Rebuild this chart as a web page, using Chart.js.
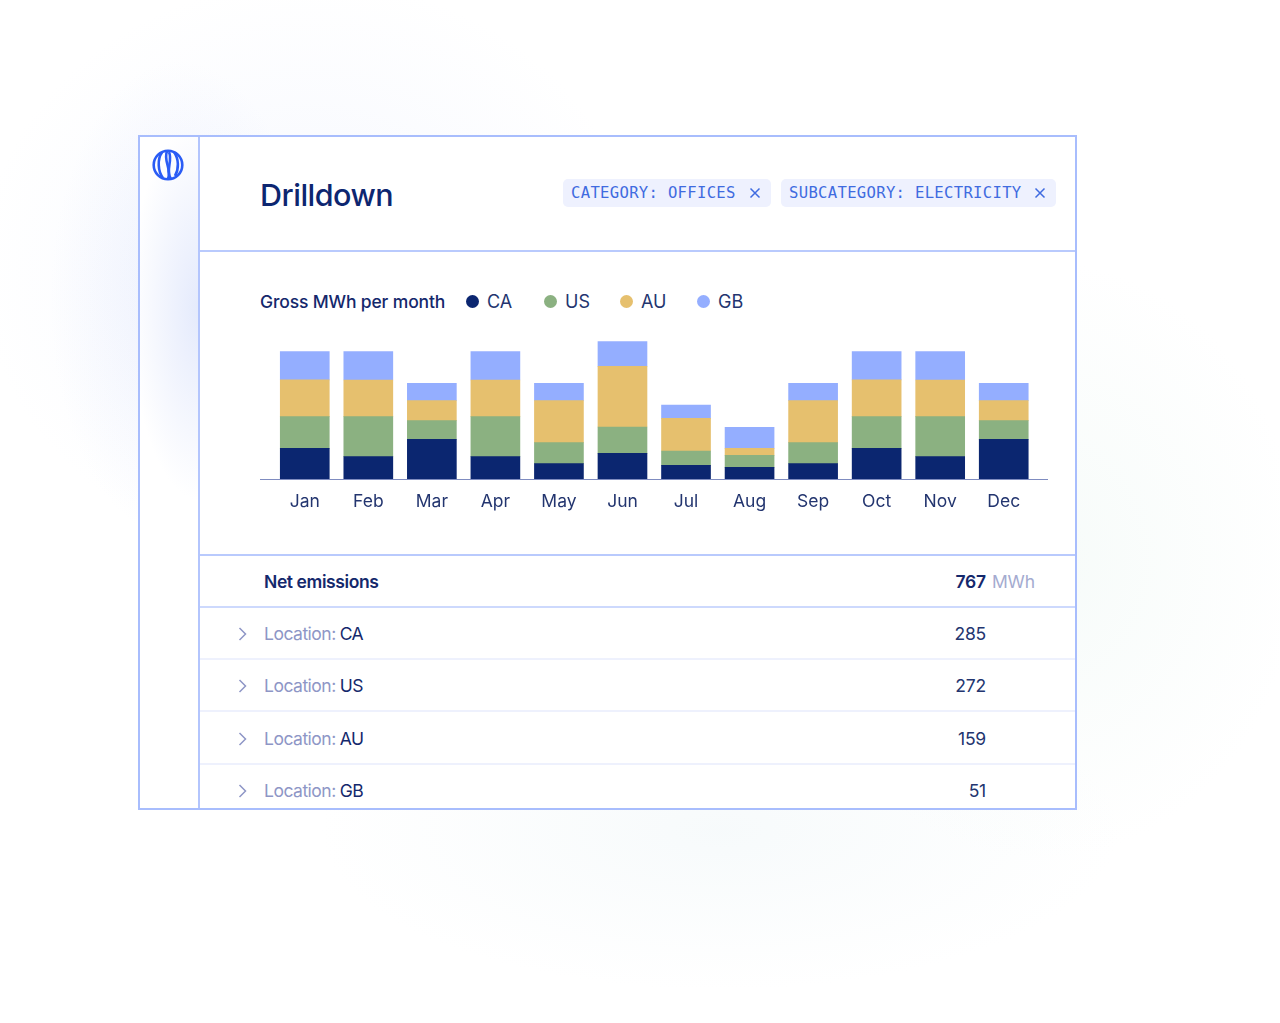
<!DOCTYPE html>
<html>
<head>
<meta charset="utf-8">
<title>Drilldown</title>
<script src="https://cdn.jsdelivr.net/npm/chart.js@4"></script>
<style>
  html, body { margin: 0; padding: 0; }
  body {
    width: 1280px; height: 1023px; overflow: hidden; position: relative;
    font-family: Inter, sans-serif; color: #14286c;
    background:
      radial-gradient(ellipse 130px 240px at 180px 300px, rgba(190,205,250,0.22), rgba(190,205,250,0) 100%),
      radial-gradient(ellipse 330px 290px at 310px 270px, rgba(225,232,252,0.32), rgba(225,232,252,0) 100%),
      radial-gradient(ellipse 260px 300px at 1040px 560px, rgba(232,245,240,0.38), rgba(232,245,240,0) 100%),
      radial-gradient(ellipse 400px 160px at 720px 830px, rgba(232,242,245,0.35), rgba(232,242,245,0) 100%),
      #fff;
  }
  .abs { position: absolute; }
  #frame { left: 138px; top: 135px; width: 939px; height: 675px; background: #fff; overflow: hidden; }
  #frameBorder { left: 0; top: 0; width: 935px; height: 671px; border: 2px solid #a8bdfd; }
  #side { left: 0; top: 0; width: 60px; height: 675px; border-right: 2px solid #b3c5fd;
    background: radial-gradient(ellipse 70px 190px at 62px 175px, #e4eafc, rgba(255,255,255,0) 100%); }
  #globe { left: 14px; top: 14px; }
  h1 { margin: 0; left: 122px; top: 42px; font-size: 30.5px; line-height: 36px; font-weight: 500; letter-spacing: -0.5px; color: #0d2670; white-space: nowrap; }
  .chip { top: 44px; height: 28px; border-radius: 5px; background: #eef1fe; color: #3f6be0;
    font: 15.6px/28px "DejaVu Sans Mono", monospace; white-space: nowrap; letter-spacing: 0.3px; }
  .chip span { position: absolute; left: 8px; top: 0; }
  .chip svg { position: absolute; top: 8px; }
  .rule { left: 62px; width: 877px; height: 2px; background: #b9cafd; }
  .rule.soft { height: 2px; background: #eef1fd; }
  #chartTitle { left: 122px; top: 155px; font-size: 17.5px; line-height: 24px; font-weight: 500; letter-spacing: -0.15px; white-space: nowrap; color: #14286c; }
  .lg-dot { width: 13px; height: 13px; border-radius: 50%; top: 160px; }
  .lg-text { top: 155px; font-size: 18px; line-height: 24px; color: #23356f; }
  #chartBox { left: 122px; top: 194px; width: 788px; height: 186px; }
  .row-label { left: 126px; font-size: 17.5px; line-height: 24px; white-space: nowrap; letter-spacing: -0.5px; word-spacing: -0.5px; }
  .row-label .muted { color: #8e96c6; }
  .row-value { font-size: 17.5px; line-height: 24px; text-align: right; right: 90px; color: #23356f; letter-spacing: -0.2px; }
  .chev { left: 100px; }
</style>
</head>
<body>
<div id="frame" class="abs">
  <div id="side" class="abs">
    <svg id="globe" class="abs" width="32" height="32" viewBox="0 0 32 32" fill="none" stroke="#2a5cf5" stroke-width="2.6">
      <circle cx="16" cy="16" r="14.3"/>
      <path d="M10 3.5C5 10 6 23 11 29"/>
      <path d="M22 3C27 10 27 20 23 27"/>
      <path d="M15 2C11 12 20 20 16 30"/>
      <path d="M17 3C21 12 13 21 19 30"/>
    </svg>
  </div>
  <h1 class="abs">Drilldown</h1>
  <div id="chips"></div>
  <div class="abs rule" style="top:115px"></div>
  <div id="chartTitle" class="abs">Gross MWh per month</div>
  <div id="legend"></div>
  <div id="chartBox" class="abs"><canvas id="drilldownChart"></canvas></div>
  <div class="abs rule" style="top:419px"></div>
  <div class="abs row-label" style="top:435px;font-weight:600;color:#14286c;letter-spacing:-0.4px;word-spacing:0">Net emissions</div>
  <div class="abs row-value" style="top:435px;right:91px;font-weight:600;color:#14286c">767</div>
  <div class="abs row-label" style="top:435px;left:854px;color:#a4abd0;letter-spacing:-0.2px">MWh</div>
  <div class="abs rule" style="top:471px;background:#cdd9fd"></div>
  <div id="rows"></div>
  <div id="frameBorder" class="abs"></div>
</div>

<script>
// Chart data
const months = ['Jan', 'Feb', 'Mar', 'Apr', 'May', 'Jun', 'Jul', 'Aug', 'Sep', 'Oct', 'Nov', 'Dec'];
const locations = ['CA', 'US', 'AU', 'GB'];
const caValues = [30.7, 22.3, 39.7, 22.3, 15.3, 25.7, 13.7, 11.7, 15.3, 30.7, 22.3, 39.7];
const usValues = [31.7, 40, 18.7, 40, 21, 26.3, 14.3, 12, 21, 31.7, 40, 18.7];
const auValues = [36.7, 36.7, 20, 36.7, 42, 60.7, 32.7, 7, 42, 36.7, 36.7, 20];
const gbValues = [28.3, 28.3, 17.3, 28.3, 17.3, 24.7, 13.3, 21, 17.3, 28.3, 28.3, 17.3];
const locationTotals = [285, 272, 159, 51];
const filters = ['CATEGORY: OFFICES', 'SUBCATEGORY: ELECTRICITY'];

const seriesColors = ['#0b2670', '#8bb181', '#e6c06e', '#94aeff'];
const seriesValues = [caValues, usValues, auValues, gbValues];
const frame = document.getElementById('frame');
const border = document.getElementById('frameBorder');

// Filter chips
const chipBoxes = [[425, 208], [643, 275]];
filters.forEach((text, i) => {
  const [left, width] = chipBoxes[i];
  const chip = document.createElement('div');
  chip.className = 'abs chip';
  chip.style.left = left + 'px';
  chip.style.width = width + 'px';
  chip.innerHTML = `<span>${text}</span>
    <svg style="right:10px" width="12" height="12" viewBox="0 0 12 12" stroke="#3f6be0" stroke-width="1.5"><path d="M1.5 1.5L10.5 10.5M10.5 1.5L1.5 10.5"/></svg>`;
  frame.insertBefore(chip, border);
});

// Legend
const legendDots = [328, 406, 482, 559];
const legendTexts = [349, 427, 503, 580];
locations.forEach((loc, i) => {
  const dot = document.createElement('div');
  dot.className = 'abs lg-dot';
  dot.style.left = legendDots[i] + 'px';
  dot.style.background = seriesColors[i];
  frame.insertBefore(dot, border);
  const label = document.createElement('div');
  label.className = 'abs lg-text';
  label.style.left = legendTexts[i] + 'px';
  label.textContent = loc;
  frame.insertBefore(label, border);
});

// Table rows
locations.forEach((loc, i) => {
  const top = 487 + i * 52.3;
  const row = document.createElement('div');
  row.innerHTML = `
    <svg class="abs chev" style="top:${top + 5}px" width="9" height="14" viewBox="0 0 9 14" fill="none" stroke="#8e96c6" stroke-width="1.5"><path d="M1.5 1L7.5 7L1.5 13"/></svg>
    <div class="abs row-label" style="top:${top}px"><span class="muted">Location:</span> ${loc}</div>
    <div class="abs row-value" style="top:${top}px;right:91px">${locationTotals[i]}</div>
    ${i < 3 ? `<div class="abs rule soft" style="top:${top + 36}px"></div>` : ''}`;
  frame.insertBefore(row, border);
});

// Baseline runs past the first and last bars
const baselinePlugin = {
  id: 'baseline',
  afterDatasetsDraw(chart) {
    const { ctx, scales } = chart;
    const y = scales.y.getPixelForValue(0);
    ctx.save();
    ctx.strokeStyle = '#7f8cc0';
    ctx.lineWidth = 1;
    ctx.beginPath();
    ctx.moveTo(0, y + 0.5);
    ctx.lineTo(chart.width, y + 0.5);
    ctx.stroke();
    ctx.restore();
  }
};

new Chart(document.getElementById('drilldownChart'), {
  type: 'bar',
  data: {
    labels: months,
    datasets: locations.map((loc, i) => ({
      label: loc,
      data: seriesValues[i],
      backgroundColor: seriesColors[i],
      barThickness: 49,
      borderWidth: 0
    }))
  },
  options: {
    responsive: true,
    maintainAspectRatio: false,
    animation: false,
    layout: { padding: { left: 13, right: 12.5, top: 0, bottom: 0 } },
    plugins: {
      legend: { display: false },
      tooltip: { enabled: false }
    },
    scales: {
      x: {
        stacked: true,
        grid: { display: false },
        border: { display: false },
        ticks: { color: '#23356f', font: { family: 'Inter', size: 17.5 }, padding: 4, maxRotation: 0, autoSkip: false },
        afterFit(scale) { scale.height = 36; }
      },
      y: { stacked: true, display: false, min: 0, max: 150 }
    }
  },
  plugins: [baselinePlugin]
});
</script>
</body>
</html>
